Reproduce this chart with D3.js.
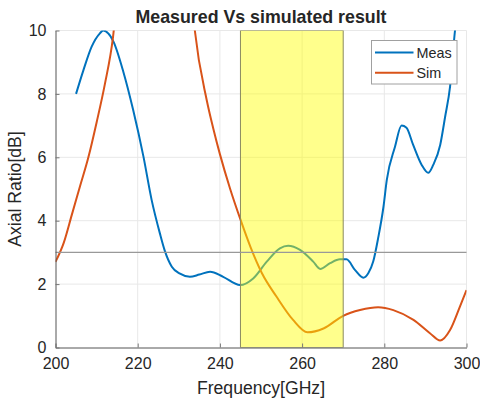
<!DOCTYPE html>
<html>
<head>
<meta charset="utf-8">
<script src="https://cdn.jsdelivr.net/npm/d3@7"></script>
<style>
    body { margin: 0; background: #fff; }
    text { font-family: "Liberation Sans", Arial, sans-serif; fill: #262626; }
</style>
</head>
<body>
<div id="chart"></div>
<script>

// measured axial ratio
let measFreq = [205, 206.8, 208.8, 210.8, 211.6, 214.1, 216.5, 218.9, 221.4, 223.4, 225.4, 226.6, 228.3, 230.3,
    232.7, 235, 237.6, 240.8, 244.9, 248.1, 251.4, 254.6, 256.6, 259.5, 262.7, 264.4, 266.8, 269.2, 270.8,
    272.9, 274.9, 276.1, 277.3, 278.5, 279.8, 280.6, 282.6, 284.2, 285.4, 287, 289.1, 290.7, 291.9, 293.6,
    294.8, 296, 297.2, 298]
let measAR = [8.0, 8.75, 9.49, 9.91, 10.0, 9.65, 8.7, 7.49, 6.02, 4.65, 3.6, 3.05, 2.55, 2.33,
    2.23, 2.3, 2.39, 2.23, 1.97, 2.18, 2.71, 3.13, 3.21, 3.08, 2.71, 2.48, 2.66, 2.78, 2.78,
    2.44, 2.2, 2.34, 2.71, 3.45, 4.44, 5.28, 6.33, 7.0, 6.93, 6.4, 5.76, 5.51, 5.76, 6.39,
    7.28, 8.23, 10.0, 10.8]

// simulated axial ratio (null = off the top of the plot)
let simFreq = [200, 202, 204, 206, 208, 210, 212, 214, 214.6,
    224,
    233.5, 233.9, 236.8, 238.4, 240, 242.5, 245.1, 247.5, 250.2, 253.8, 257.8, 261.3, 265.2, 270,
    274.1, 278.5, 282.2, 287.1, 291.1, 293.6, 296, 298.4, 300]
let simAR = [2.7, 3.3, 4.2, 5.1, 6.0, 7.1, 8.3, 9.8, 10.5,
    null,
    10.5, 10.0, 7.8, 6.9, 6.1, 5.0, 4.0, 3.15, 2.35, 1.6, 0.87, 0.48, 0.6, 1.0,
    1.18, 1.27, 1.18, 0.87, 0.45, 0.22, 0.55, 1.29, 1.81]

let xTicks = [200, 220, 240, 260, 280, 300]
let yTicks = [0, 2, 4, 6, 8, 10]
let band = [245, 270]
let threshold = 3
let seriesNames = ["Meas", "Sim"]
let seriesColors = ["#0072BD", "#D95319"]

let margin = {top: 30.5, right: 13.5, bottom: 50.5, left: 55.5}
let width = 480 - margin.left - margin.right
let height = 398 - margin.top - margin.bottom

let svg = d3.select("#chart").append("svg")
    .attr("width", 480)
    .attr("height", 398)

let g = svg.append("g")
    .attr("transform", `translate(${margin.left}, ${margin.top})`)

let x = d3.scaleLinear().domain([200, 300]).range([0, width])
let y = d3.scaleLinear().domain([0, 10]).range([height, 0])

svg.append("defs").append("clipPath")
    .attr("id", "plot-clip")
    .append("rect")
    .attr("width", width)
    .attr("height", height)

// grid
g.append("g")
    .selectAll("line")
    .data(xTicks.slice(1))
    .enter().append("line")
    .attr("x1", d => x(d)).attr("x2", d => x(d))
    .attr("y1", 0).attr("y2", height)
    .attr("stroke", "#e8e8e8")

g.append("g")
    .selectAll("line")
    .data(yTicks.slice(1))
    .enter().append("line")
    .attr("x1", 0).attr("x2", width)
    .attr("y1", d => y(d)).attr("y2", d => y(d))
    .attr("stroke", "#e8e8e8")

// curves
let plot = g.append("g").attr("clip-path", "url(#plot-clip)")

let line = d3.line()
    .defined(d => d[1] != null)
    .curve(d3.curveMonotoneX)
    .x(d => x(d[0]))
    .y(d => y(d[1]))

let series = [
    measFreq.map((f, i) => [f, measAR[i]]),
    simFreq.map((f, i) => [f, simAR[i]])
]

plot.selectAll(".curve")
    .data(series)
    .enter().append("path")
    .attr("class", "curve")
    .attr("d", d => line(d))
    .attr("fill", "none")
    .attr("stroke", (d, i) => seriesColors[i])
    .attr("stroke-width", 2)

// highlighted band
plot.append("rect")
    .attr("x", x(band[0]))
    .attr("width", x(band[1]) - x(band[0]))
    .attr("y", 0)
    .attr("height", height)
    .attr("fill", "#ffff00")
    .attr("fill-opacity", 0.45)
    .attr("stroke", "#8a8a60")
    .attr("stroke-width", 1)

// 3 dB line
g.append("line")
    .attr("x1", 0).attr("x2", width)
    .attr("y1", y(threshold)).attr("y2", y(threshold))
    .attr("stroke", "#999")
    .attr("stroke-width", 1.1)

// axes
let xAxis = d3.axisBottom(x).tickValues(xTicks).tickSizeInner(-4).tickSizeOuter(0).tickPadding(10)
let yAxis = d3.axisLeft(y).tickValues(yTicks).tickSizeInner(-4).tickSizeOuter(0).tickPadding(9)

g.append("g")
    .attr("class", "x-axis axis")
    .attr("transform", `translate(0, ${height})`)
    .call(xAxis)

g.append("g")
    .attr("class", "y-axis axis")
    .call(yAxis)

g.selectAll(".axis path").attr("stroke", "#555")
g.selectAll(".axis line").attr("stroke", "#777")
g.selectAll(".axis text")
    .attr("font-size", 16)
    .attr("fill", "#262626")
    .style("font-family", "'Liberation Sans', Arial, sans-serif")

// titles
g.append("text")
    .attr("x", width / 2)
    .attr("y", -8)
    .attr("text-anchor", "middle")
    .attr("font-size", 17.8)
    .attr("font-weight", "bold")
    .attr("fill", "#000")
    .text("Measured Vs simulated result")

g.append("text")
    .attr("x", width / 2)
    .attr("y", height + 46)
    .attr("text-anchor", "middle")
    .attr("font-size", 17.6)
    .text("Frequency[GHz]")

g.append("text")
    .attr("transform", `translate(${-35}, ${height / 2}) rotate(-90)`)
    .attr("text-anchor", "middle")
    .attr("font-size", 17.6)
    .text("Axial Ratio[dB]")

// legend
let legend = svg.append("g").attr("transform", "translate(371.5, 40.5)")

legend.append("rect")
    .attr("width", 85.5)
    .attr("height", 43.5)
    .attr("fill", "#fff")
    .attr("stroke", "#a0a0a0")

let entries = legend.selectAll(".entry")
    .data(seriesNames)
    .enter().append("g")
    .attr("class", "entry")
    .attr("transform", (d, i) => `translate(0, ${12 + i * 20.3})`)

entries.append("line")
    .attr("x1", 3.5).attr("x2", 42)
    .attr("stroke", (d, i) => seriesColors[i])
    .attr("stroke-width", 2)

entries.append("text")
    .attr("x", 45)
    .attr("dy", "0.35em")
    .attr("font-size", 14.4)
    .text(d => d)

</script>
</body>
</html>
